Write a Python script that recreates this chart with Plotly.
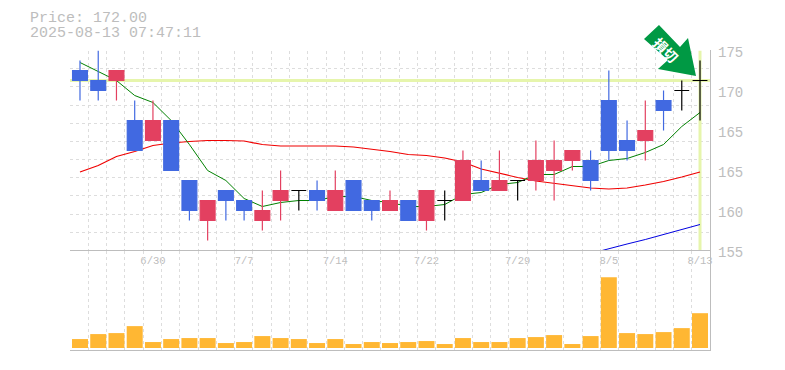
import plotly.graph_objects as go

dates = ["6/24","6/25","6/26","6/27","6/30","7/1","7/2","7/3","7/4","7/7","7/8","7/9","7/10","7/11","7/14","7/15","7/16","7/17","7/18","7/22","7/23","7/24","7/25","7/28","7/29","7/30","7/31","8/1","8/4","8/5","8/6","8/7","8/8","8/12","8/13"]
opens  = [173,172,172,168,166,168,162,158,161,160,158,160,161,161,159,162,160,159,160,158,160,160,162,161,162,162,163,164,164,170,166,166,170,171,172]
highs  = [174,175,173,170,170,168,162,160,161,160,161,163,161,162,163,162,160,161,160,161,161,165,164,165,162,166,166,165,165,173,168,170,171,172,174]
lows   = [170,170,170,165,166,163,158,156,158,158,157,158,159,159,159,159,158,159,158,157,158,160,161,161,160,161,160,163,161,164,164,164,167,169,168]
closes = [172,171,173,165,168,163,159,160,160,159,159,161,161,160,161,159,159,160,158,161,160,164,161,162,162,164,164,165,162,165,165,167,169,171,172]
ma5  = [173.8,172.9,172,170.5,169.8,168,165.6,163,162,160.2,159.4,159.8,160,160,160.4,160.4,160,159.8,159.4,159.4,159.6,160.6,160.8,161.6,161.8,162.6,162.6,163.4,163.4,164,164.2,164.8,165.6,167.4,168.8]
ma25 = [162.85,163.5,164.4,164.9,165.5,165.75,165.9,166,166,165.95,165.6,165.45,165.45,165.45,165.45,165.35,165.15,164.9,164.6,164.5,164.25,163.85,163.15,162.7,162.3,161.95,161.7,161.5,161.25,161.15,161.25,161.55,161.9,162.35,162.85]
ma75 = [None]*28 + [154.7,155.2,155.65,156.1,156.6,157.15,157.6]
volumes = [9,14,15,22,6,9,10,10,5,6,12,10,9,5,9,4,6,5,6,7,4,10,6,6,10,11,13,4,12,71,15,14,16,20,35]
last_price = 172.00
tick_labels = ["6/30","7/7","7/14","7/22","7/29","8/5","8/13"]
price_ticks = [175,171,167,163,159,155]
price_labels = ["175","170","165","165","160","155"]

GREY = "#bdbdbd"; GRID = "#dddddd"; BLUE = "#4169e1"; RED = "#e34060"
MONO = "Liberation Mono"
OFF = 8
W, H = 769, 354
L, R, T, M, B = 70, 710, 50.5, 250.5, 350
PX = lambda x: (x-OFF)/W
PY = lambda y: 1-(y-OFF)/H
xs = list(range(len(dates)))
xr = [-0.548, 34.548]
grid_dx = (xr[1]-xr[0])/35
pick = lambda f: [i for i in xs if f(i)]
up = pick(lambda i: closes[i] > opens[i])
dn = pick(lambda i: closes[i] < opens[i])
dj = pick(lambda i: closes[i] == opens[i])

fig = go.Figure()
fig.add_trace(go.Scatter(x=xr, y=[last_price]*2, mode="lines", line=dict(color="#e6f5ac", width=3), cliponaxis=False))
fig.add_trace(go.Scatter(x=[xs[-1]]*2, y=[155,175], mode="lines", line=dict(color="#e6f5ac", width=3), cliponaxis=False))
fig.add_trace(go.Scatter(x=xs, y=ma75, mode="lines", line=dict(color="#0000e0", width=1), cliponaxis=False))
fig.add_trace(go.Scatter(x=xs, y=ma25, mode="lines", line=dict(color="#f00000", width=1.2)))
fig.add_trace(go.Scatter(x=xs, y=ma5, mode="lines", line=dict(color="#008000", width=1)))
def candles(idx, color):
    fig.add_trace(go.Candlestick(
        x=idx, open=[opens[i] for i in idx], high=[highs[i] for i in idx],
        low=[lows[i] for i in idx], close=[closes[i] for i in idx],
        increasing=dict(line=dict(color=color, width=1.2), fillcolor=color),
        decreasing=dict(line=dict(color=color, width=1.2), fillcolor=color),
        whiskerwidth=0, zorder=1))
candles(dn, BLUE); candles(up, RED); candles(dj, "#000000")
fig.add_trace(go.Bar(x=xs, y=volumes, xaxis="x2", yaxis="y2", width=0.877, marker=dict(color="#ffb733", line=dict(width=0))))

minor_x = dict(showgrid=True, gridcolor=GRID, griddash="3px,3px", gridwidth=1, tickmode="linear", tick0=xr[0], dtick=grid_dx, ticks="")
axfont = dict(family=MONO, size=10.5, color=GREY)
fig.update_layout(
    template=None,
    width=W, height=H, margin=dict(l=0, r=0, t=0, b=0, pad=0), autosize=False,
    paper_bgcolor="white", plot_bgcolor="white", showlegend=False, boxgap=0.185, boxgroupgap=0,
    xaxis=dict(domain=[PX(L), PX(R)], range=xr, anchor="y", rangeslider=dict(visible=False), automargin=False,
               tickmode="array", tickvals=[dates.index(t) for t in tick_labels], ticktext=tick_labels,
               tickfont=axfont, showgrid=False, zeroline=False, ticks="", ticklabelstandoff=2,
               showline=False, minor=minor_x),
    yaxis=dict(domain=[PY(M), PY(T)], range=[155,175], side="right", anchor="x", automargin=False,
               tickmode="array", tickvals=price_ticks, ticktext=price_labels,
               tickfont=dict(family=MONO, size=14, color=GREY), ticklabelshift=2, ticklabelstandoff=7, ticks="",
               showgrid=False, zeroline=False, showline=False,
               minor=dict(showgrid=True, gridcolor=GRID, griddash="3px,3px", gridwidth=1, tickmode="linear", tick0=155, dtick=20/11, ticks="")),
    xaxis2=dict(domain=[PX(L), PX(R)], range=xr, anchor="y2", showticklabels=False, showgrid=False, zeroline=False, automargin=False,
                showline=False, ticks="", tickmode="array", tickvals=[], minor=minor_x),
    yaxis2=dict(domain=[PY(B), PY(M)], range=[-2,98], side="right", anchor="x2", showticklabels=False, showgrid=False, automargin=False,
                zeroline=False, showline=False, ticks=""),
    annotations=[
        dict(xref="paper", yref="paper", x=PX(30), y=PY(19), text=f"Price: {last_price:.2f}", showarrow=False, xanchor="left", yanchor="middle",
             font=dict(family=MONO, size=15, color=GREY), borderpad=0, xshift=-1),
        dict(xref="paper", yref="paper", x=PX(30), y=PY(34), text="2025-08-13 07:47:11", showarrow=False, xanchor="left", yanchor="middle",
             font=dict(family=MONO, size=15, color=GREY), borderpad=0, xshift=-1),
        dict(xref="paper", yref="paper", x=PX(686), y=PY(30), text="<b>損切</b>", showarrow=False, textangle=45,
             font=dict(family="Noto Sans CJK JP", size=14, color="#ffffff")),
    ],
)
pts = [(659,25),(644,39),(668,60),(658,69),(696,76),(688,38),(680,47)]
path = "M " + " L ".join(f"{PX(x):.5f},{PY(y):.5f}" for x, y in pts) + " Z"
fig.add_shape(type="path", path=path, xref="paper", yref="paper", fillcolor="#009944", line=dict(width=0), layer="above")
frame = [((L, 250.5), (R+1, 250.5)), ((L, 350.5), (R+1, 350.5)), ((R+0.5, 50), (R+0.5, 351))]
for (x0, y0), (x1, y1) in frame:
    fig.add_shape(type="line", xref="paper", yref="paper", x0=PX(x0), y0=PY(y0), x1=PX(x1), y1=PY(y1),
                  line=dict(color=GREY, width=1), layer="above")
fig.write_html("out.html")
